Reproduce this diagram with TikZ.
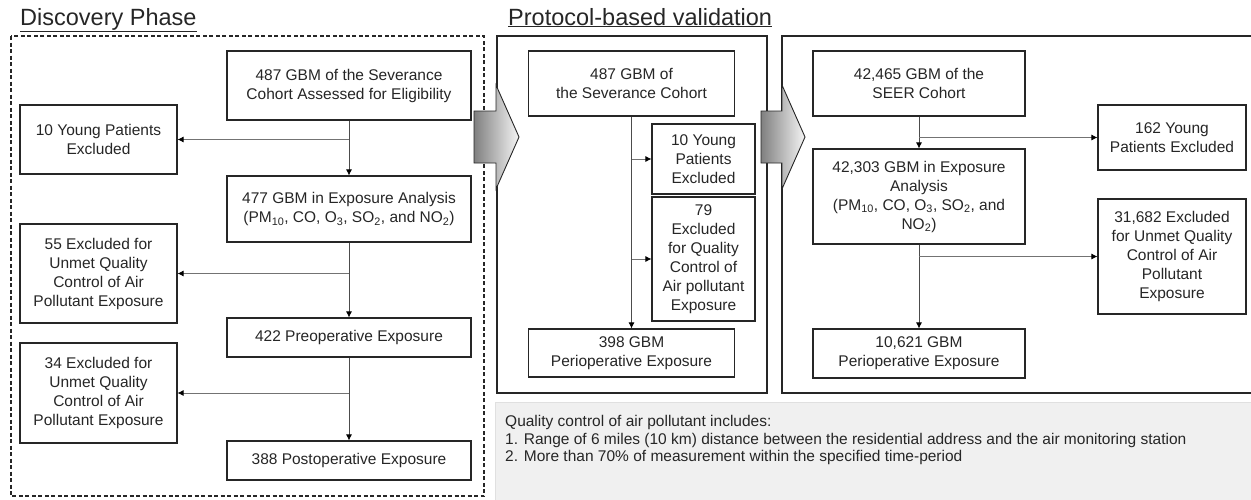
\documentclass[tikz,border=0pt]{standalone}
\usepackage{fontspec}
\setmainfont{Liberation Sans}
\usetikzlibrary{arrows.meta}

\tikzstyle{flowbox}=[draw=black!85,line width=1.1pt,fill=white,align=center,inner sep=1pt,font=\fontsize{15.5}{19}\selectfont,text=black!85]
\tikzstyle{main box}=[flowbox,minimum width=244pt]
\tikzstyle{side box}=[flowbox,minimum width=157pt]
\tikzstyle{panel}=[draw=black!85,line width=1.3pt]
\tikzstyle{trunk}=[draw,black!70,line width=0.8pt,-{Latex[color=black,length=6pt,width=6pt]}]
\tikzstyle{branch}=[draw,black!55,line width=0.8pt,-{Latex[color=black,length=6pt,width=6pt]}]
\tikzstyle{big arrow}=[draw=black!85,line width=0.9pt,left color=black!50,right color=black!4]
\tikzstyle{phase title}=[anchor=base west,inner sep=0pt,font=\fontsize{23.5}{27}\selectfont,text=black!85]

\begin{document}
\begin{tikzpicture}[x=1pt,y=-1pt]
	\useasboundingbox (0,0) rectangle (1251,499);
	% Frames of the three panels
	\draw[panel,line width=1.1pt,dash pattern=on 4pt off 2.5pt] (11,36) rectangle (484,496);
	\draw[panel] (497,36) rectangle (767,393);
	\draw[panel] (1253,36) -| (782,393) -- (1253,393);
	\node[phase title] (t1) at (20,25) {\underline{Discovery Phase}};
	\node[phase title] (t2) at (508,25) {\underline{Protocol-based validation}};

	% Discovery phase
	\node[main box,minimum height=69pt] (a1) at (349,85.5) {487 GBM of the Severance\\Cohort Assessed for Eligibility};
	\node[side box,minimum height=69pt] (y1) at (98.5,139.5) {10 Young Patients\\Excluded};
	\node[main box,minimum height=66pt] (a2) at (349,209) {477 GBM in Exposure Analysis\\(PM\textsubscript{10}, CO, O\textsubscript{3}, SO\textsubscript{2}, and NO\textsubscript{2})};
	\node[side box,minimum height=99pt] (q1) at (98.5,273.5) {55 Excluded for\\Unmet Quality\\Control of Air\\Pollutant Exposure};
	\node[main box,minimum height=39pt] (a3) at (349,337.5) {422 Preoperative Exposure};
	\node[side box,minimum height=100pt] (q2) at (98.5,393) {34 Excluded for\\Unmet Quality\\Control of Air\\Pollutant Exposure};
	\node[main box,minimum height=39pt] (a4) at (349,460.5) {388 Postoperative Exposure};

	% Severance cohort
	\node[flowbox,minimum width=206pt,minimum height=65pt] (b1) at (631.5,83.5) {487 GBM of\\the Severance Cohort};
	\node[flowbox,minimum width=103pt,minimum height=70pt] (by) at (703.5,159) {10 Young\\Patients\\Excluded};
	\node[flowbox,minimum width=103pt,minimum height=124pt] (bq) at (703.5,259) {79\\Excluded\\for Quality\\Control of\\Air pollutant\\Exposure};
	\node[flowbox,minimum width=206pt,minimum height=48pt] (b2) at (631.5,353) {398 GBM\\Perioperative Exposure};

	% SEER cohort
	\node[flowbox,minimum width=212pt,minimum height=65pt] (c1) at (919,83.5) {42,465 GBM of the\\SEER Cohort};
	\node[flowbox,minimum width=148pt,minimum height=65pt] (cy) at (1172,137.5) {162 Young\\Patients Excluded};
	\node[flowbox,minimum width=212pt,minimum height=95pt] (c2) at (919,196.5) {42,303 GBM in Exposure\\Analysis\\(PM\textsubscript{10}, CO, O\textsubscript{3}, SO\textsubscript{2}, and\\NO\textsubscript{2})};
	\node[flowbox,minimum width=148pt,minimum height=115pt] (cq) at (1172,256.5) {31,682 Excluded\\for Unmet Quality\\Control of Air\\Pollutant\\Exposure};
	\node[flowbox,minimum width=212pt,minimum height=49pt] (c3) at (919,353.5) {10,621 GBM\\Perioperative Exposure};

	% Connect the boxes
	\foreach \source/\dest in {a1/a2, a2/a3, a3/a4, b1/b2, c1/c2, c2/c3}
		\path[trunk] (\source) to (\dest);
	\foreach \source/\dest in {a1/y1, a2/q1, a3/q2, b1/by, b1/bq, c1/cy, c2/cq}
		\path[branch] (\source.south |- \dest) to (\dest);

	% Arrows between the phases
	\draw[big arrow] (474,111) -- (496,111) -- (496,85) -- (519,137) -- (496,189) -- (496,163) -- (474,163) -- cycle;
	\draw[big arrow] (761,111) -- (782,111) -- (782,85) -- (805,137) -- (782,189) -- (782,163) -- (761,163) -- cycle;

	% Note on quality control
	\filldraw[draw=black!12,fill=black!6] (495,402) rectangle (1256,503);
	\node[anchor=north west,align=left,inner sep=0pt,font=\fontsize{15.5}{17.5}\selectfont,text=black!85] (note) at (505,415.5) {Quality control of air pollutant includes:\\1. Range of 6 miles (10 km) distance between the residential address and the air monitoring station\\2. More than 70\% of measurement within the specified time-period};
\end{tikzpicture}
\end{document}
